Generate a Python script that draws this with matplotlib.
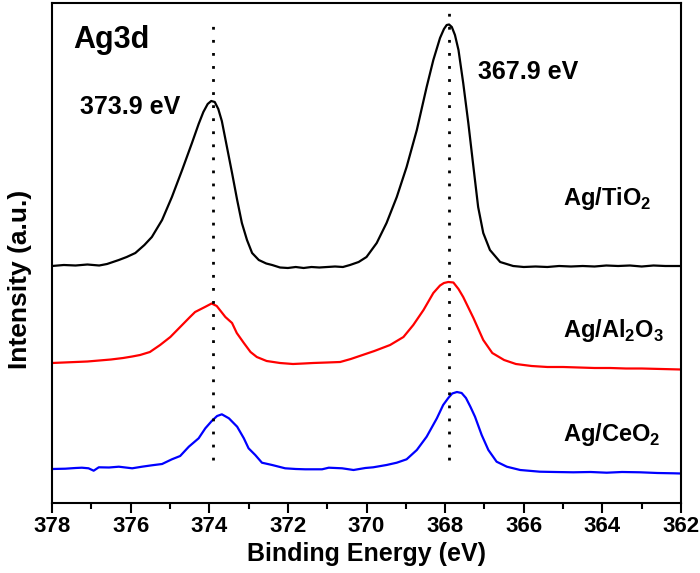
import matplotlib
matplotlib.use('Agg')
import matplotlib.pyplot as plt

plt.rcParams['font.family'] = ['Liberation Sans', 'DejaVu Sans']
plt.rcParams['font.weight'] = 'bold'
plt.rcParams['mathtext.fontset'] = 'custom'
plt.rcParams['mathtext.rm'] = 'Liberation Sans:bold'
plt.rcParams['mathtext.bf'] = 'Liberation Sans:bold'

# binding energy (eV) / intensity, offset stacked
be_tio2 = [378.0, 377.7, 377.4, 377.1, 376.8, 376.6, 376.3, 376.1, 375.88, 375.65,
           375.46, 375.2, 374.95, 374.69, 374.44, 374.27, 374.15, 374.04, 373.95, 373.86,
           373.77, 373.68, 373.55, 373.42, 373.29, 373.17, 373.04, 372.91, 372.74, 372.55,
           372.4, 372.2, 372.0, 371.8, 371.6, 371.4, 371.2, 371.0, 370.8, 370.6,
           370.42, 370.2, 370.0, 369.74, 369.49, 369.23, 368.98, 368.72, 368.47, 368.3,
           368.13, 368.03, 367.96, 367.9, 367.83, 367.75, 367.66, 367.54, 367.41, 367.28,
           367.16, 367.03, 366.86, 366.6, 366.27, 366.0, 365.7, 365.4, 365.1, 364.8,
           364.5, 364.2, 363.9, 363.6, 363.3, 363.0, 362.7, 362.4, 362.0]
i_tio2 = [237, 238, 237.5, 238.5, 237.5, 239, 243, 246, 250, 258,
          266, 283, 306, 333, 360, 379, 391, 399, 402, 401,
          394, 382, 356, 330, 303, 280, 263, 250, 243, 239.5,
          238, 235.5, 235, 236, 235, 236, 235.5, 236, 236.5, 236,
          238, 241, 246, 260, 280, 306, 336, 373, 416, 443,
          465, 474, 478, 478.5, 476, 468, 453, 420, 380, 336,
          296, 270, 253, 241, 237, 236, 236.5, 236, 237, 236.5,
          237, 236.5, 237.5, 237, 237.5, 236.5, 237.5, 237, 237]

be_al2o3 = [378.0, 377.7, 377.4, 377.1, 376.8, 376.5, 376.19, 375.96, 375.76, 375.51,
            375.25, 374.99, 374.74, 374.49, 374.36, 374.11, 373.94, 373.81, 373.59, 373.42,
            373.3, 373.12, 372.95, 372.79, 372.54, 372.2, 371.87, 371.6, 371.36, 371.0,
            370.67, 370.4, 370.1, 369.8, 369.4, 369.06, 368.81, 368.55, 368.3, 368.13,
            368.03, 367.92, 367.79, 367.66, 367.54, 367.28, 367.03, 366.8, 366.5, 366.2,
            365.8, 365.4, 365.0, 364.6, 364.2, 363.8, 363.4, 363.0, 362.5, 362.0]
i_al2o3 = [140, 140.5, 141, 141.5, 142.5, 143.5, 145, 146.5, 148, 151,
           158, 166, 176, 186, 191, 196, 199.5, 197, 186, 180,
           170, 160, 151, 146, 142, 140, 139, 139.5, 140, 140.5,
           141, 144, 148, 152, 158, 166, 178, 193, 210, 217.5,
           220, 221, 220.5, 214, 206, 185, 163, 150, 143, 139,
           137, 136, 136, 135.5, 135, 135, 134.5, 134.5, 134, 133.5]

be_ceo2 = [378.0, 377.66, 377.4, 377.24, 377.07, 376.94, 376.81, 376.55, 376.3, 375.96,
           375.71, 375.46, 375.2, 374.95, 374.74, 374.52, 374.27, 374.1, 373.93, 373.8,
           373.68, 373.5, 373.29, 373.12, 373.0, 372.83, 372.66, 372.4, 372.07, 371.8,
           371.56, 371.13, 370.96, 370.62, 370.33, 370.03, 369.83, 369.49, 369.23, 368.98,
           368.72, 368.47, 368.21, 368.05, 367.92, 367.82, 367.7, 367.58, 367.47, 367.36,
           367.24, 367.07, 366.9, 366.69, 366.43, 366.09, 365.59, 365.2, 364.74, 364.3,
           363.89, 363.5, 363.04, 362.6, 362.19, 362.0]
i_ceo2 = [34, 34.3, 35, 35.3, 34.7, 32.3, 35.7, 35.5, 36.3, 34.7,
          36.3, 37.7, 39, 43.7, 47, 56.3, 64.7, 74.7, 82.3, 87,
          88.7, 84.7, 76.3, 64.7, 54.7, 48, 40.3, 38, 34.7, 34,
          33.7, 33.7, 35.3, 34.7, 33, 35, 35.7, 38, 40.3, 43.7,
          53, 66.3, 84.7, 98, 105, 109.5, 111, 110, 105, 96.5,
          86.3, 68, 53, 41.3, 36.3, 33, 31.3, 31, 30.7, 31,
          30.3, 31, 30.7, 30, 29.7, 29.5]

peaks = [373.9, 367.9]
peak_tops = [481, 493]
samples = ['Ag/TiO$_\\mathbf{2}$', 'Ag/Al$_\\mathbf{2}$O$_\\mathbf{3}$', 'Ag/CeO$_\\mathbf{2}$']
label_y = [298, 166, 62]

fig = plt.figure(figsize=(7, 5.73), dpi=100)
ax = fig.add_axes([52 / 700, 70 / 573, 629 / 700, 500 / 573])

ax.plot(be_tio2, i_tio2, color='black', lw=1.6)
ax.plot(be_al2o3, i_al2o3, color='#ff0000', lw=1.6)
ax.plot(be_ceo2, i_ceo2, color='#0000ff', lw=1.6)

for p, top in zip(peaks, peak_tops):
    ax.plot([p, p], [43, top], color='black', lw=2, linestyle=(0, (1, 3.7)))

ax.text(377.47, 455, 'Ag3d', fontsize=22, fontweight='bold', ha='left', va='baseline')
ax.text(377.29, 389, '373.9 eV', fontsize=18, fontweight='bold', ha='left', va='baseline')
ax.text(367.16, 424, '367.9 eV', fontsize=18, fontweight='bold', ha='left', va='baseline')
for s, y in zip(samples, label_y):
    ax.text(365.0, y, s, fontsize=17, fontweight='bold', ha='left', va='baseline')

ax.set_xlim(378, 362)
ax.set_ylim(0, 500)
ax.set_xticks(range(378, 361, -2))
ax.set_xticks(range(377, 362, -2), minor=True)
ax.set_yticks([])
ax.tick_params(axis='x', which='major', direction='out', length=7, width=1.5, labelsize=16, pad=2)
ax.tick_params(axis='x', which='minor', direction='out', length=4, width=1.5)
for lab in ax.get_xticklabels():
    lab.set_fontweight('bold')
for sp in ax.spines.values():
    sp.set_linewidth(1.5)

ax.set_xlabel('Binding Energy (eV)', fontsize=18, fontweight='bold', labelpad=4)
ax.set_ylabel('Intensity (a.u.)', fontsize=19, fontweight='bold')
ax.yaxis.set_label_coords(-0.032, 0.448)

fig.savefig('out.png', dpi=100)
